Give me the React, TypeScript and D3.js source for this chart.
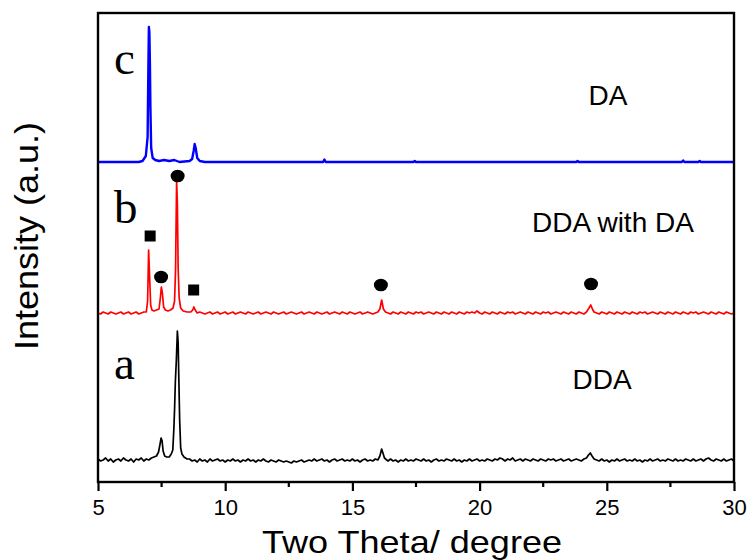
import React, { useEffect, useRef } from "react";
import { select, scaleLinear, line, axisBottom } from "d3";

const width = 748;
const height = 560;
const marginLeft = 98;
const marginRight = 14;
const marginTop = 13;
const marginBottom = 78;

const xTicks = [5, 10, 15, 20, 25, 30];
const xMinorTicks = [7.5, 12.5, 17.5, 22.5, 27.5];

const traceNames = ["DDA", "DDA with DA", "DA"];
const traceLetters = ["a", "b", "c"];
const traceColors = ["#000000", "#ff0000", "#0000ff"];
const traceOffsets = [22, 169, 320];

// a: DDA
const ddaData: [number, number][] = [
  [5.0, 1], [5.1, -1], [5.2, 0], [5.3, 2], [5.4, -1], [5.5, 1], [5.6, -2], [5.7, 0],
  [5.8, 1], [5.9, -1], [6.0, 2], [6.1, 0], [6.2, -1], [6.3, 1], [6.4, -2], [6.5, 1],
  [6.6, 0], [6.7, 2], [6.8, -1], [6.9, 1], [7.0, 0], [7.1, 2], [7.2, 3], [7.3, 4],
  [7.38, 8], [7.44, 16], [7.48, 22], [7.52, 19], [7.56, 9], [7.62, 4], [7.7, 3], [7.8, 3],
  [7.88, 6], [7.94, 10], [7.98, 30], [8.01, 51], [8.04, 78], [8.08, 100], [8.12, 129],
  [8.15, 118], [8.18, 78], [8.21, 40], [8.25, 12], [8.3, 6], [8.38, 3], [8.5, 1],
  [8.6, 1], [8.7, -1], [8.8, 0], [8.9, -2], [9.0, 1], [9.1, -1], [9.2, 0], [9.3, -2],
  [9.4, 1], [9.5, -1], [9.6, 0], [9.7, 1], [9.8, -1], [9.9, 0], [10.0, -2], [10.1, 0],
  [10.2, -1], [10.3, 1], [10.4, -1], [10.5, 0], [10.6, -2], [10.7, 0], [10.8, -1],
  [10.9, 1], [11.0, -1], [11.1, 0], [11.2, -2], [11.3, 0], [11.4, -1], [11.5, 1],
  [11.6, -1], [11.7, -2], [11.8, 0], [11.9, -1], [12.0, -2], [12.1, 0], [12.2, -1],
  [12.3, -2], [12.4, -1], [12.5, -2], [12.6, -3], [12.7, -1], [12.8, -2], [12.9, -1],
  [13.0, 0], [13.1, -2], [13.2, -1], [13.3, 0], [13.4, -1], [13.5, 1], [13.6, -1],
  [13.7, 0], [13.8, 1], [13.9, -1], [14.0, 0], [14.1, -2], [14.2, 0], [14.3, 1],
  [14.4, -1], [14.5, 0], [14.6, 1], [14.7, -1], [14.8, 0], [14.9, -1], [15.0, 1],
  [15.1, -1], [15.2, 0], [15.3, -2], [15.4, 0], [15.5, 1], [15.6, -1], [15.7, 0],
  [15.8, -1], [15.9, 1], [16.0, 0], [16.08, 4], [16.15, 11], [16.2, 7], [16.26, 2],
  [16.35, 0], [16.4, -1], [16.5, 1], [16.6, -1], [16.7, 0], [16.8, -2], [16.9, 0],
  [17.0, -1], [17.1, 1], [17.2, -1], [17.3, 0], [17.4, -1], [17.5, 1], [17.6, 0],
  [17.7, -1], [17.8, 1], [17.9, -1], [18.0, 0], [18.1, -2], [18.2, 0], [18.3, 1],
  [18.4, -1], [18.5, 0], [18.6, -1], [18.7, 1], [18.8, 0], [18.9, -1], [19.0, 1],
  [19.1, -1], [19.2, 0], [19.3, -2], [19.4, 0], [19.5, -1], [19.6, 1], [19.7, -1],
  [19.8, 0], [19.9, 1], [20.0, -1], [20.1, 0], [20.2, -1], [20.3, 1], [20.4, 0],
  [20.5, -1], [20.6, 1], [20.7, 0], [20.8, 2], [20.9, 1], [21.0, -1], [21.1, 1],
  [21.2, 0], [21.3, 2], [21.4, -1], [21.5, 0], [21.6, 1], [21.7, -1], [21.8, 1],
  [21.9, 0], [22.0, -1], [22.1, 1], [22.2, 0], [22.3, -1], [22.4, 1], [22.5, 0],
  [22.6, -1], [22.7, 1], [22.8, 0], [22.9, 1], [23.0, -1], [23.1, 0], [23.2, 1],
  [23.3, -1], [23.4, 0], [23.5, 1], [23.6, -1], [23.7, 0], [23.8, 1], [23.9, 0],
  [24.0, -1], [24.1, 1], [24.2, 2], [24.28, 5], [24.35, 7], [24.42, 4], [24.5, 1],
  [24.6, 0], [24.7, -1], [24.8, 1], [24.9, -1], [25.0, 0], [25.1, -2], [25.2, 0],
  [25.3, -1], [25.4, 1], [25.5, -1], [25.6, 0], [25.7, 1], [25.8, -1], [25.9, 0],
  [26.0, -1], [26.1, 1], [26.2, -1], [26.3, 0], [26.4, -2], [26.5, 0], [26.6, -1],
  [26.7, 1], [26.8, -1], [26.9, 0], [27.0, 1], [27.1, -1], [27.2, 0], [27.3, -1],
  [27.4, 1], [27.5, 0], [27.6, -1], [27.7, 1], [27.8, -1], [27.9, 0], [28.0, -1],
  [28.1, 1], [28.2, 0], [28.3, -1], [28.4, 1], [28.5, -1], [28.6, 0], [28.7, 1],
  [28.8, -1], [28.9, 1], [29.0, 2], [29.1, 0], [29.2, -1], [29.3, 1], [29.4, 0],
  [29.5, -1], [29.6, 1], [29.7, -1], [29.8, 0], [29.9, 1], [30.0, -1],
];

// b: DDA with DA
const ddaWithDaData: [number, number][] = [
  [5.0, 0], [5.1, -1], [5.2, 1], [5.3, 0], [5.4, -1], [5.5, 1], [5.6, 0], [5.7, -1],
  [5.8, 0], [5.9, 1], [6.0, -1], [6.1, 0], [6.2, 1], [6.3, -1], [6.4, 0], [6.5, 1],
  [6.6, -1], [6.7, 0], [6.8, 1], [6.9, 1], [6.95, 12], [6.99, 63], [7.03, 35], [7.07, 8],
  [7.12, 3], [7.2, 2], [7.3, 3], [7.4, 4], [7.45, 15], [7.49, 26], [7.53, 20], [7.58, 6],
  [7.65, 3], [7.75, 2], [7.85, 3], [7.95, 5], [8.01, 12], [8.05, 45], [8.09, 132],
  [8.12, 110], [8.15, 45], [8.19, 15], [8.25, 5], [8.35, 2], [8.5, 1], [8.65, 1],
  [8.72, 3], [8.77, 6], [8.82, 3], [8.9, 0], [9.0, 1], [9.1, 0], [9.2, -1], [9.3, 0],
  [9.4, 1], [9.5, -1], [9.6, 0], [9.7, 1], [9.8, -1], [9.9, 0], [10.0, 1], [10.1, -1],
  [10.2, 0], [10.3, 1], [10.4, -1], [10.5, 0], [10.6, 1], [10.7, 0], [10.8, -1],
  [10.9, 1], [11.0, 0], [11.1, -1], [11.2, 0], [11.3, 1], [11.4, -1], [11.5, 0],
  [11.6, 1], [11.7, 0], [11.8, -1], [11.9, 1], [12.0, 0], [12.1, -1], [12.2, 0],
  [12.3, 1], [12.4, -1], [12.5, 0], [12.6, 1], [12.7, 0], [12.8, -1], [12.9, 0],
  [13.0, 1], [13.1, -1], [13.2, 0], [13.3, 1], [13.4, 0], [13.5, -1], [13.6, 1],
  [13.7, 0], [13.8, -1], [13.9, 0], [14.0, 1], [14.1, -1], [14.2, 0], [14.3, 1],
  [14.4, 0], [14.5, -1], [14.6, 1], [14.7, 0], [14.8, -1], [14.9, 1], [15.0, 0],
  [15.1, -1], [15.2, 0], [15.3, 1], [15.4, -1], [15.5, 0], [15.6, 1], [15.7, 0],
  [15.8, -1], [15.9, 0], [16.0, 1], [16.08, 4], [16.15, 13], [16.22, 4], [16.3, 1],
  [16.4, 0], [16.5, -1], [16.6, 1], [16.7, 0], [16.8, -1], [16.9, 1], [17.0, 0],
  [17.1, -1], [17.2, 1], [17.3, 0], [17.4, -1], [17.5, 1], [17.6, 0], [17.7, 1],
  [17.8, -1], [17.9, 0], [18.0, 1], [18.1, 0], [18.2, -1], [18.3, 1], [18.4, 0],
  [18.5, -1], [18.6, 1], [18.7, 0], [18.8, -1], [18.9, 1], [19.0, 0], [19.1, -1],
  [19.2, 1], [19.3, 0], [19.4, -1], [19.5, 1], [19.6, 0], [19.7, 1], [19.8, 0],
  [19.9, 2], [20.0, 0], [20.1, -1], [20.2, 1], [20.3, 0], [20.4, -1], [20.5, 1],
  [20.6, 0], [20.7, -1], [20.8, 1], [20.9, 0], [21.0, -1], [21.1, 1], [21.2, 0],
  [21.3, 1], [21.4, -1], [21.5, 0], [21.6, 1], [21.7, 0], [21.8, -1], [21.9, 1],
  [22.0, 0], [22.1, -1], [22.2, 1], [22.3, 0], [22.4, -1], [22.5, 1], [22.6, 0],
  [22.7, 1], [22.8, -1], [22.9, 0], [23.0, 1], [23.1, 0], [23.2, -1], [23.3, 1],
  [23.4, 0], [23.5, -1], [23.6, 1], [23.7, 0], [23.8, -1], [23.9, 1], [24.0, 0],
  [24.1, -1], [24.2, 1], [24.3, 5], [24.37, 8], [24.45, 3], [24.5, 1], [24.6, 0],
  [24.7, -1], [24.8, 1], [24.9, 0], [25.0, -1], [25.1, 1], [25.2, 0], [25.3, -1],
  [25.4, 1], [25.5, 0], [25.6, -1], [25.7, 1], [25.8, 0], [25.9, -1], [26.0, 1],
  [26.1, 0], [26.2, -1], [26.3, 1], [26.4, 0], [26.5, 1], [26.6, -1], [26.7, 0],
  [26.8, 1], [26.9, 0], [27.0, -1], [27.1, 1], [27.2, 0], [27.3, -1], [27.4, 1],
  [27.5, 0], [27.6, -1], [27.7, 1], [27.8, 0], [27.9, -1], [28.0, 1], [28.1, 0],
  [28.2, -1], [28.3, 1], [28.4, 0], [28.5, 1], [28.6, -1], [28.7, 0], [28.8, 1],
  [28.9, 0], [29.0, -1], [29.1, 1], [29.2, 0], [29.3, -1], [29.4, 1], [29.5, 0],
  [29.6, -1], [29.7, 1], [29.8, 0], [29.9, -1], [30.0, 0],
];

// c: DA
const daData: [number, number][] = [
  [5.0, 0], [6.6, 0], [6.75, 1], [6.88, 6], [6.95, 25], [6.98, 95], [7.0, 135],
  [7.02, 130], [7.04, 100], [7.06, 55], [7.09, 14], [7.15, 4], [7.25, 2], [7.4, 1],
  [7.6, 2], [7.8, 1], [8.0, 2], [8.2, 0], [8.6, 1], [8.7, 3], [8.76, 11], [8.8, 18],
  [8.84, 14], [8.9, 4], [9.0, 1], [9.2, 0], [13.85, 0], [13.9, 2.5], [13.95, 0],
  [17.4, 0], [17.45, 1], [17.5, 0], [23.8, 0], [23.85, 1], [23.9, 0], [27.95, 0],
  [28.0, 1.5], [28.05, 0], [28.6, 0], [28.65, 1], [28.7, 0], [30.0, 0],
];

const traces = [ddaData, ddaWithDaData, daData];

// peak markers on trace b, heights above its baseline
const squareMarkers: [number, number][] = [[7.05, 77], [8.76, 23]];
const circleMarkers: [number, number][] = [[7.48, 36], [8.13, 137], [16.12, 28], [24.38, 29]];

const letterPos = [[114, 379], [114, 223], [114, 74]];
const namePos = [[602, 389], [613, 232], [608, 105]];

const App = () => {
  const svgRef = useRef<SVGSVGElement>(null);

  useEffect(() => {
    const svg = select(svgRef.current);
    svg.selectAll("*").remove();

    const xScale = scaleLinear()
      .domain([5, 30])
      .range([marginLeft, width - marginRight]);
    const yScale = scaleLinear()
      .domain([0, height - marginBottom - marginTop])
      .range([height - marginBottom, marginTop]);

    traces.forEach((data, i) => {
      const chartLine = line<[number, number]>()
        .x((d) => xScale(d[0]))
        .y((d) => yScale(d[1] + traceOffsets[i]));
      svg
        .append("path")
        .datum(data)
        .attr("fill", "none")
        .attr("stroke", traceColors[i])
        .attr("stroke-width", i === 2 ? 2.4 : 1.7)
        .attr("stroke-linejoin", "round")
        .attr("d", chartLine);
    });

    const bOffset = traceOffsets[1];
    svg
      .selectAll(".sq")
      .data(squareMarkers)
      .join("rect")
      .attr("x", (d) => xScale(d[0]) - 5.5)
      .attr("y", (d) => yScale(d[1] + bOffset) - 5.5)
      .attr("width", 11)
      .attr("height", 11)
      .attr("fill", "#000");
    svg
      .selectAll(".ci")
      .data(circleMarkers)
      .join("ellipse")
      .attr("cx", (d) => xScale(d[0]))
      .attr("cy", (d) => yScale(d[1] + bOffset))
      .attr("rx", 7)
      .attr("ry", 6.3)
      .attr("fill", "#000");

    // frame
    svg
      .append("rect")
      .attr("x", marginLeft)
      .attr("y", marginTop)
      .attr("width", width - marginLeft - marginRight)
      .attr("height", height - marginTop - marginBottom)
      .attr("fill", "none")
      .attr("stroke", "#000")
      .attr("stroke-width", 2.4);

    const bottom = height - marginBottom;
    const xAxis = axisBottom(xScale).tickValues(xTicks).tickSize(9).tickPadding(8);
    const gx = svg
      .append("g")
      .attr("transform", `translate(0,${bottom})`)
      .call(xAxis);
    gx.select(".domain").remove();
    gx.selectAll("line").attr("stroke-width", 2.2);
    gx.selectAll("text")
      .attr("font-family", "Liberation Sans, Arial, sans-serif")
      .attr("font-size", 22)
      .attr("fill", "#000");

    svg
      .append("g")
      .selectAll("line")
      .data(xMinorTicks)
      .join("line")
      .attr("x1", (d) => xScale(d))
      .attr("x2", (d) => xScale(d))
      .attr("y1", bottom)
      .attr("y2", bottom + 5)
      .attr("stroke", "#000")
      .attr("stroke-width", 2.2);

    svg
      .append("text")
      .attr("x", 412)
      .attr("y", 553)
      .attr("text-anchor", "middle")
      .attr("font-family", "Liberation Sans, Arial, sans-serif")
      .attr("font-size", 32)
      .attr("textLength", 300)
      .attr("lengthAdjust", "spacingAndGlyphs")
      .text("Two Theta/ degree");

    svg
      .append("text")
      .attr("transform", "translate(38,236) rotate(-90)")
      .attr("text-anchor", "middle")
      .attr("font-family", "Liberation Sans, Arial, sans-serif")
      .attr("font-size", 34)
      .attr("textLength", 228)
      .attr("lengthAdjust", "spacingAndGlyphs")
      .text("Intensity (a.u.)");

    traceLetters.forEach((t, i) => {
      svg
        .append("text")
        .attr("x", letterPos[i][0])
        .attr("y", letterPos[i][1])
        .attr("font-family", "Liberation Serif, Times New Roman, serif")
        .attr("font-size", 47)
        .text(t);
      svg
        .append("text")
        .attr("x", namePos[i][0])
        .attr("y", namePos[i][1])
        .attr("text-anchor", "middle")
        .attr("font-family", "Liberation Sans, Arial, sans-serif")
        .attr("font-size", 28)
        .text(traceNames[i]);
    });
  }, []);

  return (
    <div style={{ position: "fixed", left: 0, top: 0, background: "#fff" }}>
      <svg ref={svgRef} width={width} height={height} style={{ display: "block" }} />
    </div>
  );
};

export default App;
